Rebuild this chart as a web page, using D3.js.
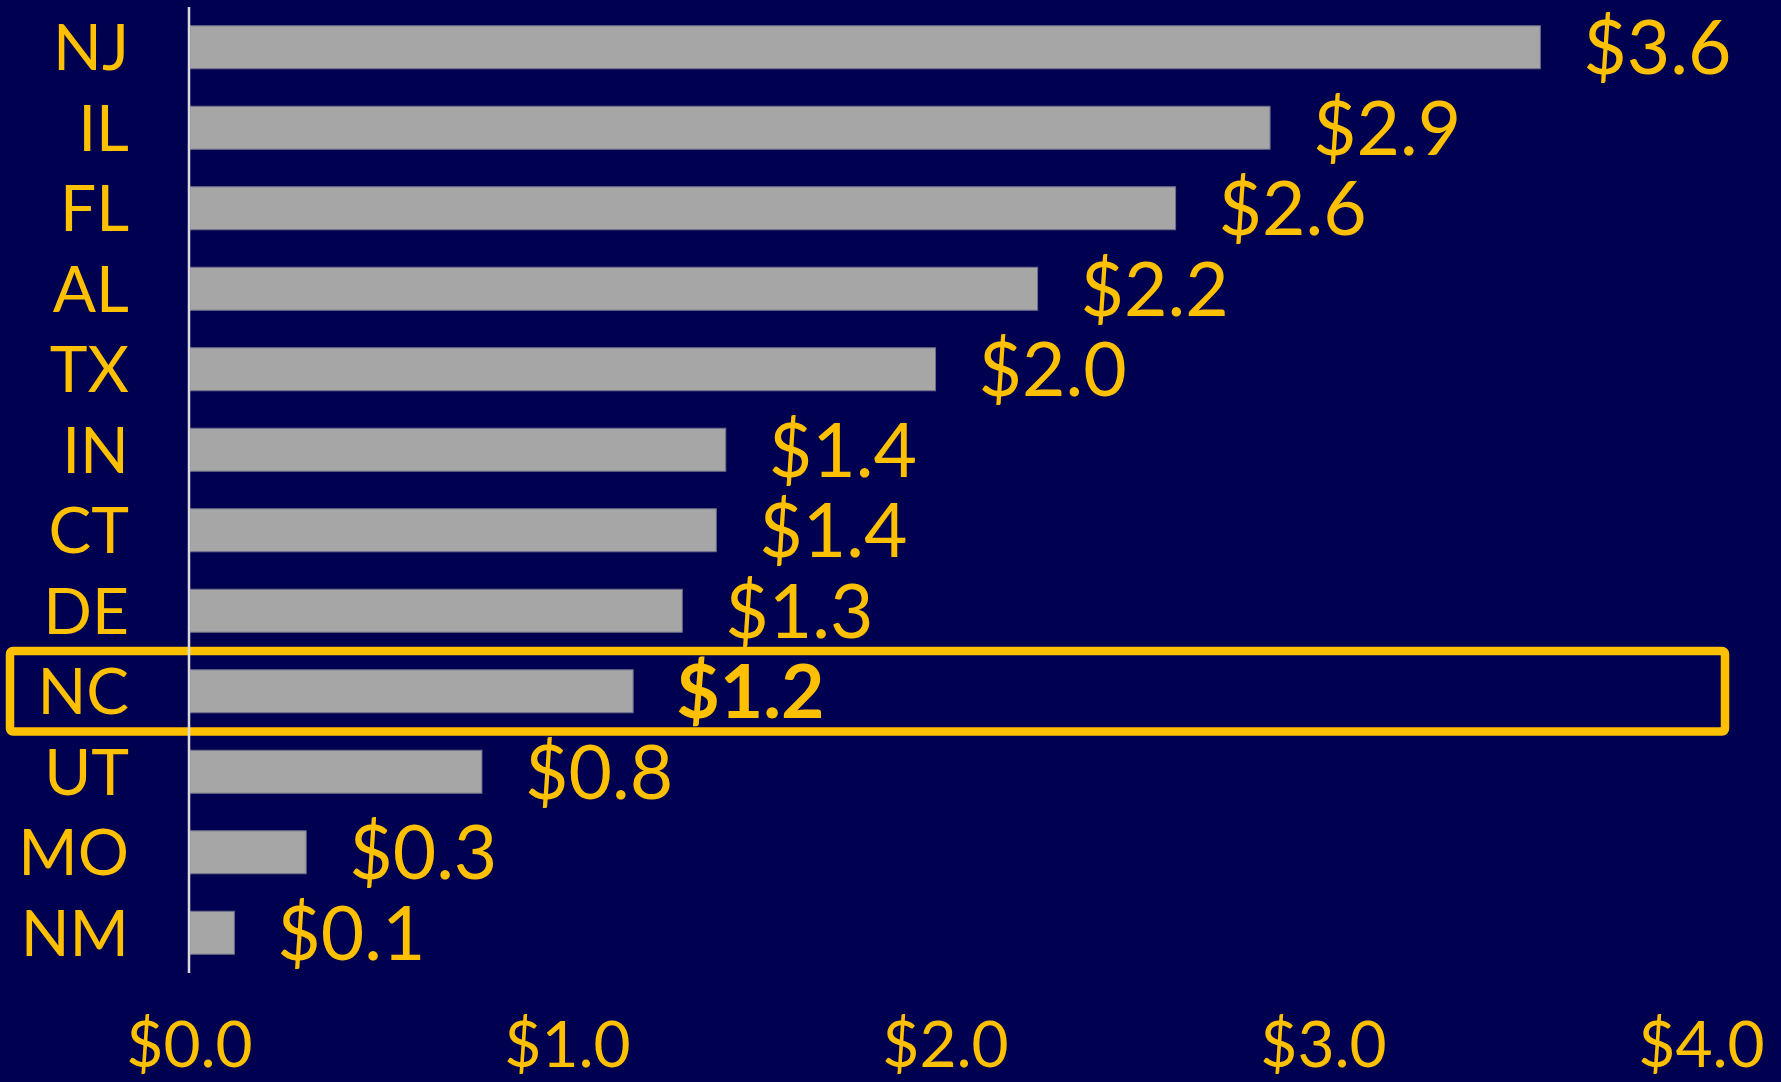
<!DOCTYPE html>
<html>
<head>
<meta charset="utf-8">
<script src="https://cdn.jsdelivr.net/npm/d3@7"></script>
<style>
  html, body { margin: 0; padding: 0; background: #000050; overflow: hidden; }
  text { font-family: Lato, "Open Sans", sans-serif; }
</style>
</head>
<body>
<script>
let states = ['NJ', 'IL', 'FL', 'AL', 'TX', 'IN', 'CT', 'DE', 'NC', 'UT', 'MO', 'NM']
let amounts = [3.575, 2.86, 2.61, 2.245, 1.975, 1.42, 1.395, 1.305, 1.175, 0.775, 0.31, 0.12]
let valueLabels = ['$3.6', '$2.9', '$2.6', '$2.2', '$2.0', '$1.4', '$1.4', '$1.3', '$1.2', '$0.8', '$0.3', '$0.1']
let ticks = [0, 1, 2, 3, 4]
let tickLabels = ['$0.0', '$1.0', '$2.0', '$3.0', '$4.0']
let highlight = 'NC'

let width = 1781
let height = 1082
let gold = '#FFC000'

const svg = d3.select('body')
  .append('svg')
  .attr('width', width)
  .attr('height', height)

svg.append('rect')
  .attr('width', width)
  .attr('height', height)
  .attr('fill', '#000050')

const xScl = d3.scaleLinear()
  .domain([0, 4])
  .range([189, 1701])

const yScl = d3.scaleBand()
  .domain(states)
  .range([7, 973])
  .paddingInner(0.466)
  .paddingOuter(0.233)

const step = yScl.step()
const mid = (d) => yScl(d) + yScl.bandwidth() / 2

// highlight box round NC
svg.append('rect')
  .attr('x', 10)
  .attr('y', mid(highlight) - step / 2)
  .attr('width', 1725 - 10)
  .attr('height', step)
  .attr('rx', 3)
  .attr('fill', 'none')
  .attr('stroke', gold)
  .attr('stroke-width', 8.5)

// bars
svg.append('g')
  .selectAll('rect')
  .data(states)
  .join('rect')
  .attr('x', xScl(0) + 1)
  .attr('y', (d) => yScl(d))
  .attr('width', (d, i) => xScl(amounts[i]) - xScl(0) - 1)
  .attr('height', yScl.bandwidth())
  .attr('fill', '#A6A6A6')
  .attr('stroke', '#6E6E8A')
  .attr('stroke-width', 1)

// vertical axis line
svg.append('line')
  .attr('x1', xScl(0))
  .attr('x2', xScl(0))
  .attr('y1', 7)
  .attr('y2', 973)
  .attr('stroke', '#D9D9D9')
  .attr('stroke-width', 2.5)

// state names
svg.append('g')
  .selectAll('text')
  .data(states)
  .join('text')
  .attr('x', 129)
  .attr('y', (d) => mid(d) + 23)
  .attr('text-anchor', 'end')
  .attr('font-size', 64)
  .attr('fill', gold)
  .text((d) => d)

// value labels
svg.append('g')
  .selectAll('text')
  .data(states)
  .join('text')
  .attr('x', (d, i) => xScl(amounts[i]) + 43)
  .attr('y', (d) => mid(d) + 27)
  .attr('font-size', 75)
  .attr('font-weight', (d) => d === highlight ? 'bold' : 'normal')
  .attr('fill', gold)
  .text((d, i) => valueLabels[i])

// x axis, labels only
const xAxis = d3.axisBottom(xScl)
  .tickValues(ticks)
  .tickFormat((d, i) => tickLabels[i])
  .tickSize(0)
  .tickPadding(0)

const gx = svg.append('g')
  .attr('transform', 'translate(0,1067)')
  .call(xAxis)

gx.select('.domain').remove()
gx.selectAll('text')
  .attr('font-family', 'Lato, sans-serif')
  .attr('font-size', 64)
  .attr('fill', gold)
  .attr('dy', 0)
</script>
</body>
</html>
